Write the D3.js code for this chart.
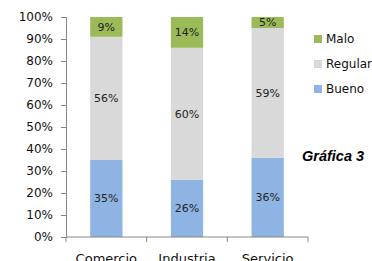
<!DOCTYPE html>
<html>
<head>
<meta charset="utf-8">
<script src="https://cdn.jsdelivr.net/npm/d3@7"></script>
<style>
  body { margin: 0; background: #fff; }
  text { font-family: "DejaVu Sans", sans-serif; }
</style>
</head>
<body>
<div id="chart"></div>
<script>
// chart data
const categories = ["Comercio", "Industria", "Servicio"];
const seriesNames = ["Bueno", "Regular", "Malo"];
const bueno = [35, 26, 36];
const regular = [56, 60, 59];
const malo = [9, 14, 5];
const yTicks = [0, 10, 20, 30, 40, 50, 60, 70, 80, 90, 100];

const colors = {Bueno: "#8eb4e3", Regular: "#d9d9d9", Malo: "#9bbb59"};

const width = 372, height = 261;
const margin = {top: 17, right: 64, bottom: 24, left: 66};
const w = width - margin.left - margin.right;
const h = height - margin.top - margin.bottom;

const svg = d3.select("#chart").append("svg")
    .attr("width", width)
    .attr("height", height);

const g = svg.append("g")
    .attr("transform", "translate(" + margin.left + "," + margin.top + ")");

// build rows for the stack
const rows = categories.map((c, i) => ({cat: c, Bueno: bueno[i], Regular: regular[i], Malo: malo[i]}));
const stacked = d3.stack().keys(seriesNames)(rows);

const x = d3.scaleBand()
    .domain(categories)
    .range([0, w])
    .paddingInner(0.6)
    .paddingOuter(0.3);

const y = d3.scaleLinear()
    .domain([0, 100])
    .range([h, 0]);

// y axis
const yAxis = g.append("g")
    .call(d3.axisLeft(y).tickValues(yTicks).tickSize(5).tickPadding(8).tickFormat(d => d + "%"));
yAxis.selectAll("text").attr("font-size", 12).attr("fill", "#111").style("font-family", "DejaVu Sans");
yAxis.selectAll("line").attr("stroke", "#868686");
yAxis.select(".domain").attr("stroke", "#868686");

// bars
const layer = g.selectAll(".layer")
    .data(stacked)
    .enter().append("g")
    .attr("fill", d => colors[d.key]);

layer.selectAll("rect")
    .data(d => d)
    .enter().append("rect")
    .attr("x", d => x(d.data.cat))
    .attr("y", d => y(d[1]))
    .attr("width", x.bandwidth())
    .attr("height", d => y(d[0]) - y(d[1]));

// value labels
layer.selectAll("text.val")
    .data(d => d)
    .enter().append("text")
    .attr("class", "val")
    .attr("x", d => x(d.data.cat) + x.bandwidth() / 2)
    .attr("y", d => y((d[0] + d[1]) / 2))
    .attr("dy", "0.35em")
    .attr("text-anchor", "middle")
    .attr("font-size", 11)
    .attr("fill", "#222")
    .text(d => (d[1] - d[0]) + "%");

// x axis line and boundary ticks
g.append("line")
    .attr("x1", 0).attr("x2", w)
    .attr("y1", h).attr("y2", h)
    .attr("stroke", "#868686");

g.selectAll(".xtick")
    .data(d3.range(categories.length + 1))
    .enter().append("line")
    .attr("x1", i => i * x.step()).attr("x2", i => i * x.step())
    .attr("y1", h).attr("y2", h + 5)
    .attr("stroke", "#868686");

const xAxis = g.append("g")
    .attr("transform", "translate(0," + h + ")")
    .call(d3.axisBottom(x).tickSize(0).tickPadding(17));
xAxis.select(".domain").remove();
xAxis.selectAll("text").attr("font-size", 13).attr("fill", "#111").style("font-family", "DejaVu Sans");

// legend
const legendOrder = ["Malo", "Regular", "Bueno"];
const legend = svg.selectAll(".legend")
    .data(legendOrder)
    .enter().append("g")
    .attr("transform", (d, i) => "translate(314," + (39 + i * 25) + ")");

legend.append("rect")
    .attr("x", 0).attr("y", -4)
    .attr("width", 8).attr("height", 8)
    .attr("fill", d => colors[d]);

legend.append("text")
    .attr("x", 12)
    .attr("dy", "0.35em")
    .attr("font-size", 12)
    .attr("fill", "#111")
    .text(d => d);

// side title
svg.append("text")
    .attr("x", 302)
    .attr("y", 161)
    .style("font-family", "Liberation Sans, Arial, sans-serif")
    .attr("font-size", 14.5)
    .attr("font-weight", "bold")
    .attr("font-style", "italic")
    .attr("fill", "#000")
    .text("Gráfica 3");
</script>
</body>
</html>
